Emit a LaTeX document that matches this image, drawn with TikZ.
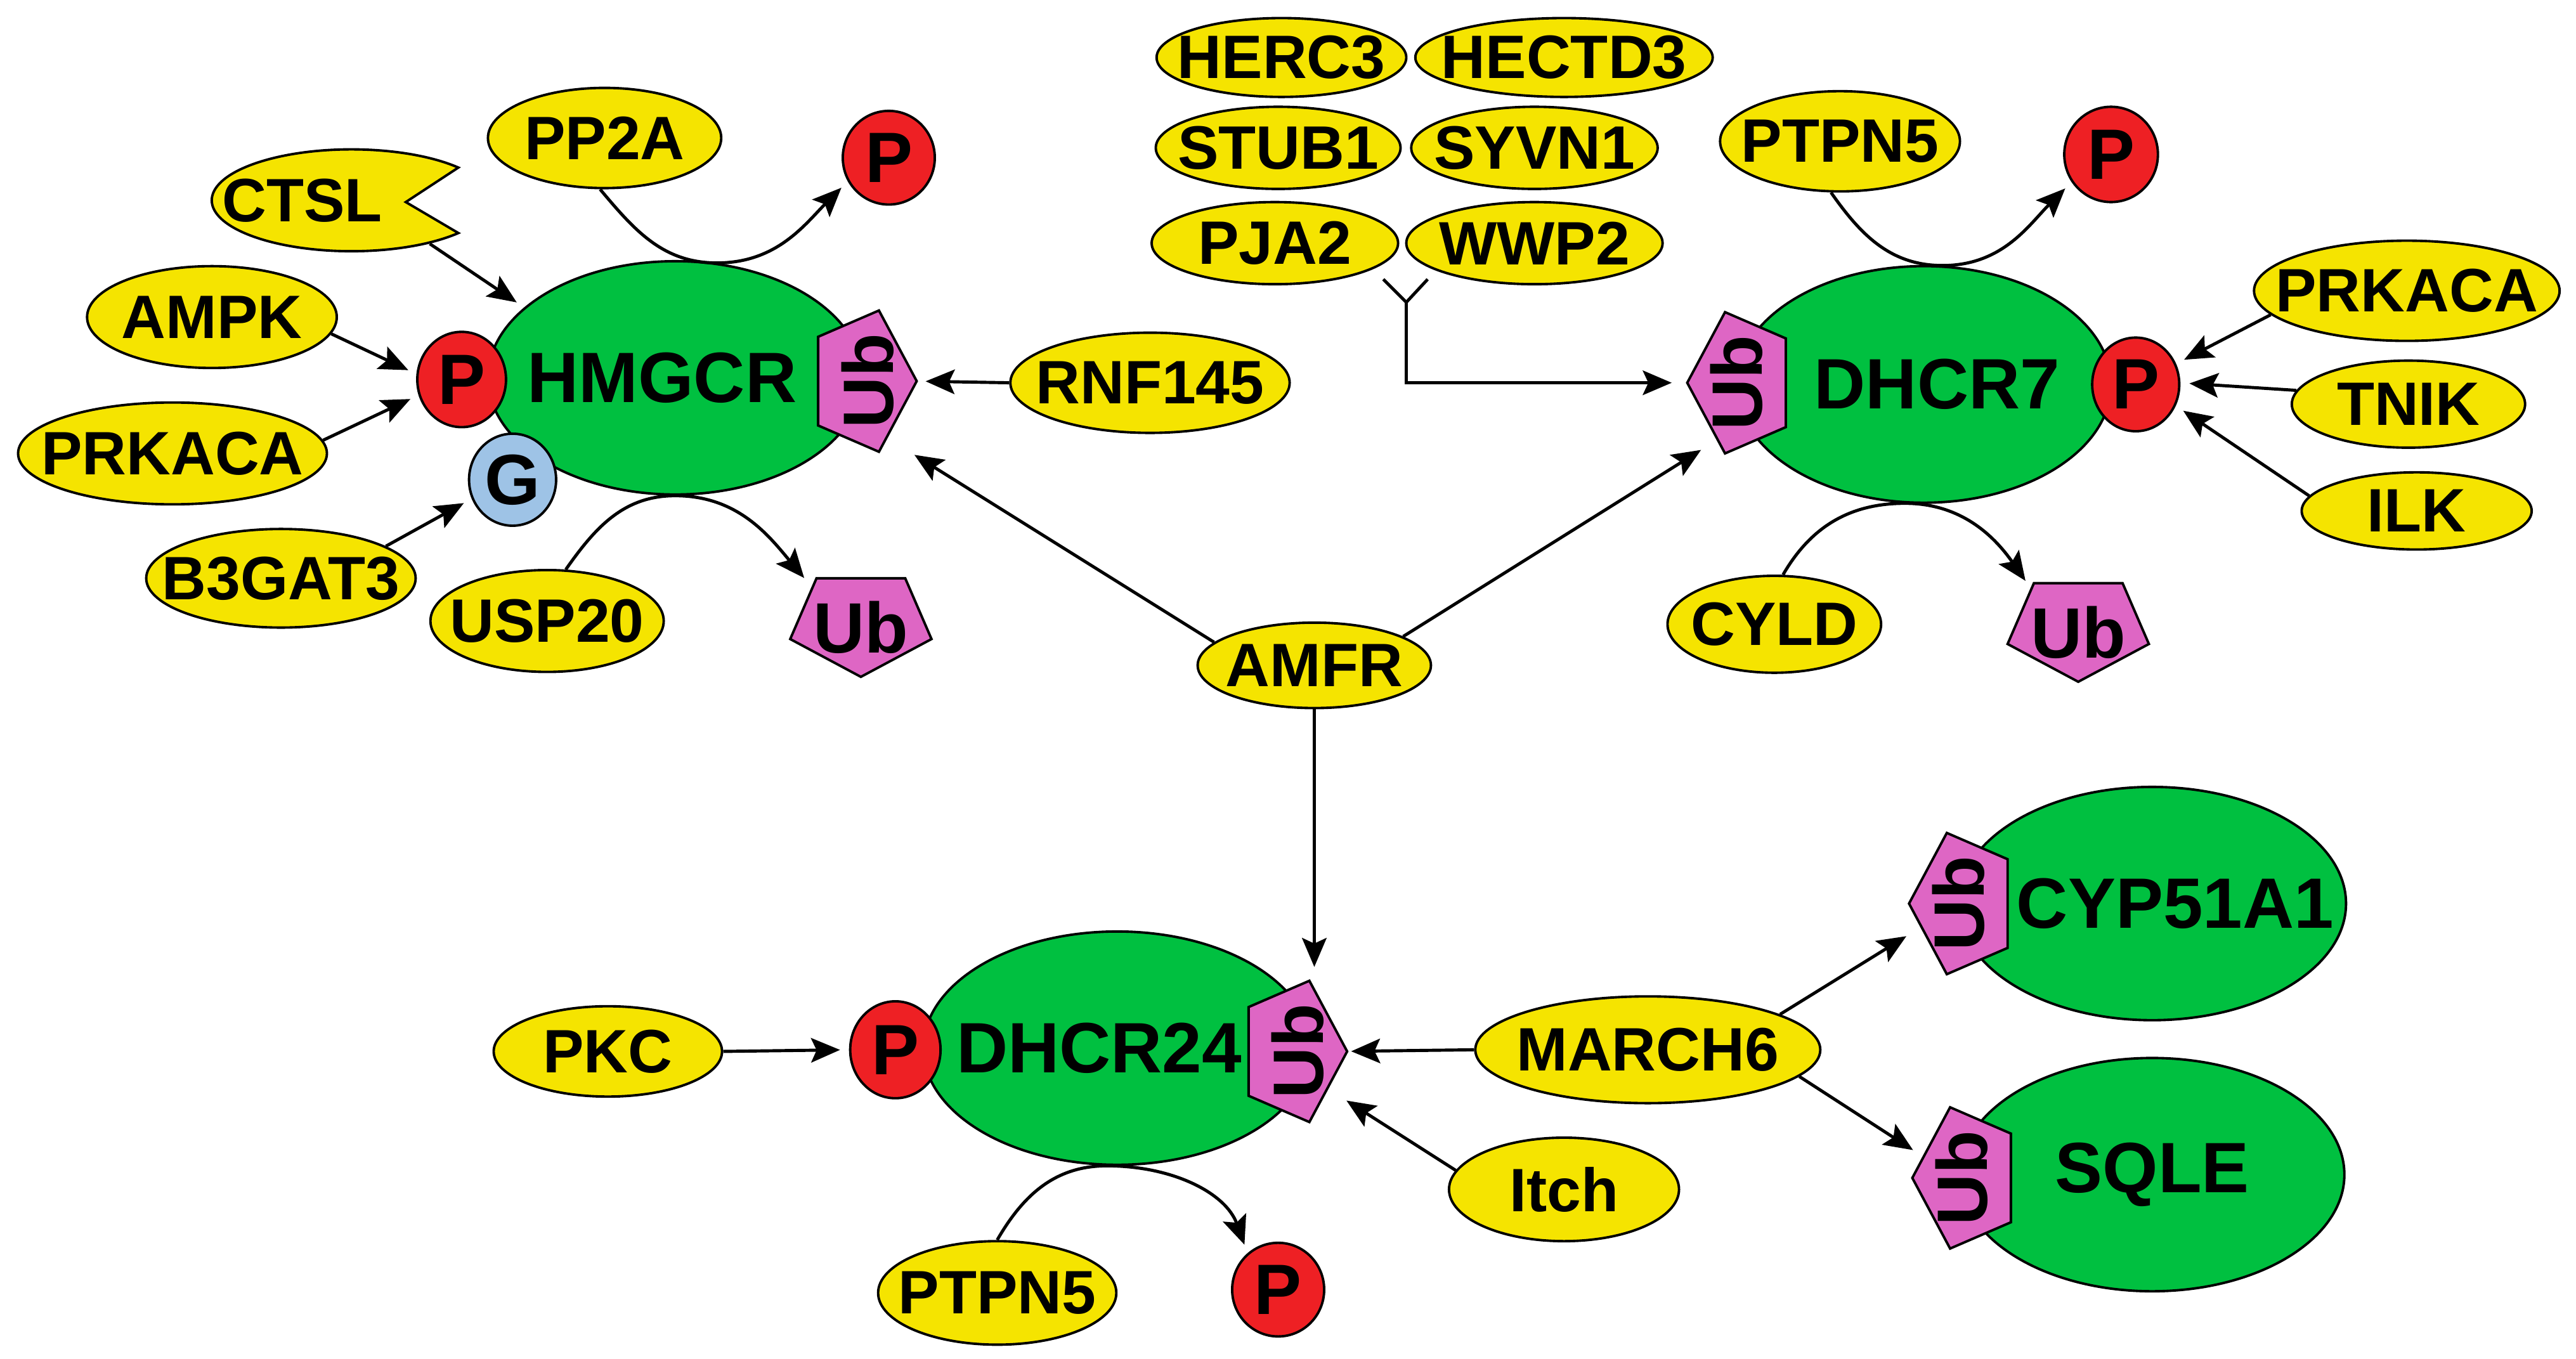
\documentclass[tikz,border=0pt]{standalone}
\usepackage{fontspec}
\setmainfont{Liberation Sans}
\usetikzlibrary{shapes.geometric,arrows.meta}
\definecolor{protyellow}{RGB}{245,228,0}
\definecolor{enzgreen}{RGB}{0,192,64}
\definecolor{phosred}{RGB}{238,32,36}
\definecolor{ubpink}{RGB}{222,102,196}
\definecolor{glcblue}{RGB}{158,195,230}
\newlength\pxu \setlength\pxu{0.025906cm}
\newcommand{\smallfont}{\fontsize{27.5}{30}\selectfont\bfseries}
\newcommand{\bigfont}{\fontsize{32}{35}\selectfont\bfseries}
\newcommand{\lbl}[2][0]{\makebox[0pt]{\hspace*{#1\pxu}#2\hspace*{-#1\pxu}}}

\begin{document}
\begin{tikzpicture}[x=\pxu,y=-\pxu,
  sz/.style 2 args={minimum width=#1*\pxu,minimum height=#2*\pxu},
  prot/.style={ellipse,draw=black,line width=1.1pt,fill=protyellow,inner sep=0pt,font=\smallfont},
  enz/.style={ellipse,draw=black,line width=1.1pt,fill=enzgreen,inner sep=0pt,font=\bigfont},
  phos/.style={ellipse,draw=black,line width=1.1pt,fill=phosred,inner sep=0pt,font=\bigfont},
  glc/.style={ellipse,draw=black,line width=1.1pt,fill=glcblue,inner sep=0pt,font=\bigfont},
  ubpent/.style={draw=black,line width=1.1pt,fill=ubpink,line join=miter},
  ubtext/.style={inner sep=0pt,font=\bigfont},
  act/.style={line width=1.4pt,-{Stealth[length=13pt,width=11pt,inset=2.5pt]},shorten >=4pt},
  link/.style={line width=1.4pt}]
\newcommand{\ubtag}[4]{%
  \draw[ubpent,shift={#2},rotate=#3] (30,0) -- (7,43) -- (-30,27) -- (-30,-27) -- (7,-43) -- cycle;
  \node[ubtext,rotate=#4] (#1) at #2 {Ub};}
  \useasboundingbox (0,0) rectangle (1568,827);

  % Enzymes
  \node[enz,sz={228}{142}] (hmgcr) at (411,230) {\lbl[-8]{HMGCR}};
  \node[enz,sz={228}{144}] (dhcr7) at (1171,234) {\lbl[8]{DHCR7}};
  \node[enz,sz={236}{142}] (dhcr24) at (680,638) {\lbl[-11]{DHCR24}};
  \node[enz,sz={236}{142}] (cyp51a1) at (1310,550) {\lbl[14]{CYP51A1}};
  \node[enz,sz={234}{142}] (sqle) at (1310,715) {\lbl{SQLE}};

  % Modifications on the enzymes
  \node[phos,sz={54}{58}] (ph) at (281,231) {P};
  \node[glc,sz={53}{56}] (g) at (312,292) {G};
  \ubtag{ubh}{(528,232)}{0}{90}
  \node[phos,sz={53}{57}] (pd7) at (1300,234) {P};
  \ubtag{ubd7}{(1057,233)}{180}{90}
  \node[phos,sz={55}{59}] (p24) at (545,639) {P};
  \ubtag{ub24}{(790,640)}{0}{90}
  \ubtag{ubcyp}{(1192,550)}{180}{90}
  \ubtag{ubsq}{(1194,717)}{180}{90}

  % Released groups
  \node[phos,sz={56}{57}] (phtop) at (541,96) {P};
  \node[phos,sz={57}{58}] (pd7top) at (1285,94) {P};
  \node[phos,sz={56}{57}] (p24b) at (778,785) {P};
  \ubtag{ubhfree}{(524,382)}{-90}{0}
  \ubtag{ubdfree}{(1265,385)}{-90}{0}

  % CTSL (notched)
  \draw[line width=1.1pt,fill=protyellow]
    (279,102) arc[start angle=-40,end angle=-320,x radius=85,y radius=31]
    -- (247,123) -- cycle;
  \node[prot,draw=none,fill=none,sz={170}{62}] (ctsl) at (214,122) {\lbl[-30]{CTSL}};

  % Regulators of HMGCR
  \node[prot,sz={142}{61}] (pp2a) at (368,84) {\lbl{PP2A}};
  \node[prot,sz={152}{62}] (ampk) at (129,193) {\lbl{AMPK}};
  \node[prot,sz={188}{62}] (prkacal) at (105,276) {\lbl{PRKACA}};
  \node[prot,sz={164}{60}] (b3gat3) at (171,352) {\lbl{B3GAT3}};
  \node[prot,sz={142}{62}] (usp20) at (333,378) {\lbl{USP20}};
  \node[prot,sz={170}{61}] (rnf145) at (700,233) {\lbl{RNF145}};

  % E3 ligases of DHCR7
  \node[prot,sz={152}{48}] (herc3) at (780,35) {\lbl{HERC3}};
  \node[prot,sz={181}{48}] (hectd3) at (952,35) {\lbl{HECTD3}};
  \node[prot,sz={149}{50}] (stub1) at (778,90) {\lbl{STUB1}};
  \node[prot,sz={150}{50}] (syvn1) at (934,90) {\lbl{SYVN1}};
  \node[prot,sz={150}{50}] (pja2) at (776,148) {\lbl{PJA2}};
  \node[prot,sz={156}{50}] (wwp2) at (934,148) {\lbl{WWP2}};

  % Regulators of DHCR7
  \node[prot,sz={146}{61}] (ptpn5a) at (1120,86) {\lbl{PTPN5}};
  \node[prot,sz={186}{61}] (prkacar) at (1465,177) {\lbl{PRKACA}};
  \node[prot,sz={142}{53}] (tnik) at (1466,246) {\lbl{TNIK}};
  \node[prot,sz={140}{47}] (ilk) at (1471,311) {\lbl{ILK}};
  \node[prot,sz={130}{59}] (cyld) at (1080,380) {\lbl{CYLD}};
  \node[prot,sz={142}{52}] (amfr) at (800,405) {\lbl{AMFR}};

  % Regulators of DHCR24
  \node[prot,sz={139}{55}] (pkc) at (370,640) {\lbl{PKC}};
  \node[prot,sz={210}{65}] (march6) at (1003,639) {\lbl{MARCH6}};
  \node[prot,sz={140}{63}] (itch) at (952,724) {\lbl{Itch}};
  \node[prot,sz={145}{63}] (ptpn5b) at (607,787) {\lbl{PTPN5}};

  % Arrows to HMGCR
  \draw[act] (ctsl.-29) -- (hmgcr.155);
  \draw[act] (ampk.-8) -- (ph.173);
  \draw[act] (prkacal.5) -- (ph.200);
  \draw[act] (b3gat3.17) -- (g.205);
  \draw[act] (pp2a.265) to[out=-50,in=180] (hmgcr.70) to[out=0,in=-135] (phtop.210);
  \draw[act] (usp20.70) to[out=55,in=180] (hmgcr.south)
    to[out=0,in=130] ([shift={(-31,-26)}]ubhfree.center);
  \draw[act] (rnf145.west) -- ([shift={(30,0)}]ubh.center);
  \draw[act] (amfr.167) -- ([shift={(24,42)}]ubh.center);

  % Arrows to DHCR7
  \coordinate (forkl) at (842,170);
  \coordinate (forkr) at (869,170);
  \coordinate (fork) at (856,184);
  \draw[link] (forkl) -- (fork);
  \draw[link] (forkr) -- (fork);
  \draw[act] (fork) |- ([shift={(-34,0)}]ubd7.center);
  \draw[act] (amfr.18) -- ([shift={(-17,38)}]ubd7.center);
  \draw[act] (ptpn5a.260) to[out=-55,in=180] (dhcr7.81) to[out=0,in=-135] (pd7top.215);
  \draw[act] (prkacar.190) -- (pd7.27);
  \draw[act] (tnik.173) -- (pd7.2);
  \draw[act] (ilk.172) -- (pd7.-28);
  \draw[act] (cyld.80) to[out=60,in=180] (dhcr7.261)
    to[out=0,in=125] ([shift={(-29,-27)}]ubdfree.center);

  % Arrows to DHCR24
  \draw[act] (amfr.south) -- ([shift={(10,-46)}]ub24.center);
  \draw[act] (pkc.east) -- (p24.west);
  \draw[act] (march6.west) -- ([shift={(27,0)}]ub24.center);
  \draw[act] (itch.170) -- ([shift={(25,27)}]ub24.center);
  \draw[act] (ptpn5b.north) to[out=60,in=180] (dhcr24.265) to[out=0,in=110] (p24b.130);

  % Arrows to CYP51A1 and SQLE
  \draw[act] (march6.15) -- ([shift={(-27,17)}]ubcyp.center);
  \draw[act] (march6.-10) -- ([shift={(-25,-14)}]ubsq.center);
\end{tikzpicture}
\end{document}
